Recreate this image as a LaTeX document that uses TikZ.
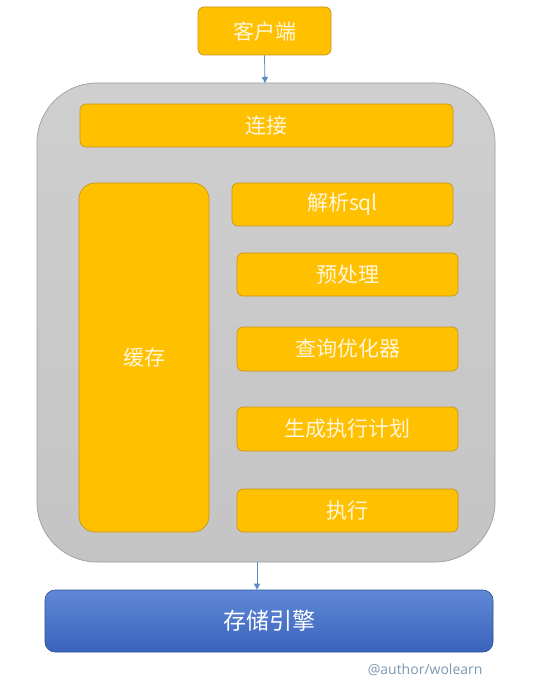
\documentclass[tikz,border=0pt]{standalone}
\usepackage{fontspec}
\newfontfamily\cjk{Noto Sans CJK SC}
\setmainfont{Open Sans}
\usetikzlibrary{arrows.meta}
\definecolor{ybox}{HTML}{FFC000}
\definecolor{yborder}{HTML}{C8961E}
\definecolor{ytext}{HTML}{FFF6DC}
\definecolor{gfill}{HTML}{CFCFCF}
\definecolor{gfill2}{HTML}{C4C4C4}
\definecolor{gborder}{HTML}{9E9E9E}
\definecolor{btop}{HTML}{5F88D6}
\definecolor{bbot}{HTML}{3A64BC}
\definecolor{arr}{HTML}{5B8BC5}
\definecolor{sig}{HTML}{7E98B4}
\begin{document}
\begin{tikzpicture}[x=1pt,y=-1pt,
  ybx/.style={draw=yborder,line width=0.7pt,fill=ybox,rounded corners=6pt,text=ytext,font=\cjk\fontsize{21}{24}\selectfont},
  conn/.style={draw=arr,line width=0.8pt,-{Triangle[length=6pt,width=6pt]}}]
\useasboundingbox (0,0) rectangle (544,692);
\fill[white] (0,0) rectangle (544,692);
% container
\draw[gborder,line width=0.7pt,top color=gfill,bottom color=gfill2,rounded corners=60pt] (37,83) rectangle (495,562);
\node[coordinate] (ctop) at (265,83) {};
\node[coordinate] (cbot) at (257,562) {};
% boxes
\node[ybx,minimum width=133pt,minimum height=48pt] (client) at (264.5,31) {客户端};
\node[ybx,minimum width=373pt,minimum height=43pt] (lianjie) at (266.5,125.5) {连接};
\node[ybx,rounded corners=16pt,minimum width=130pt,minimum height=349pt] (cache) at (144,357.5) {缓存};
\node[ybx,minimum width=221pt,minimum height=43pt] (parse) at (342.5,204.5) {解析sql};
\node[ybx,minimum width=221pt,minimum height=43pt] (pre) at (347.5,274.5) {预处理};
\node[ybx,minimum width=221pt,minimum height=44pt] (opt) at (347.5,349) {查询优化器};
\node[ybx,minimum width=221pt,minimum height=44pt] (plan) at (347.5,429) {生成执行计划};
\node[ybx,minimum width=221pt,minimum height=43pt] (exec) at (347.5,510.5) {执行};
% storage
\node[draw=bbot!80!black,line width=0.6pt,top color=btop,bottom color=bbot,rounded corners=10pt,minimum width=448pt,minimum height=62pt,text=white,font=\cjk\fontsize{23}{26}\selectfont] (store) at (269,621) {存储引擎};
\node[text=sig,font=\fontsize{14}{16}\selectfont,anchor=east] (sign) at (486,670) {@author/wolearn};
% arrows
\draw[conn] (client.south) -- (ctop);
\draw[conn] (cbot) -- (cbot |- store.north);
\end{tikzpicture}
\end{document}
